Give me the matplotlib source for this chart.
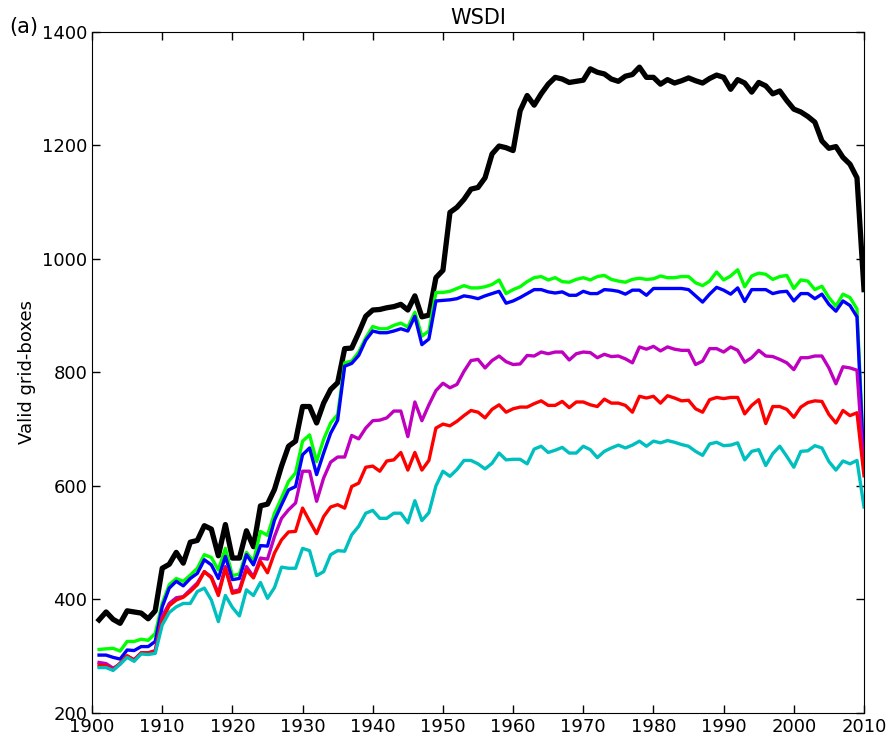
import matplotlib
matplotlib.use('Agg')
import matplotlib.pyplot as plt
import numpy as np

years = np.arange(1901, 2011)

black = [364, 378, 365, 358, 380, 378, 376, 366, 380, 455,
         462, 483, 464, 501, 504, 530, 524, 477, 532, 473,
         473, 521, 493, 565, 568, 594, 635, 670, 679, 740,
         740, 711, 746, 770, 782, 842, 843, 870, 899, 910,
         911, 914, 916, 920, 910, 935, 898, 901, 967, 980,
         1082, 1091, 1105, 1123, 1126, 1143, 1185, 1199, 1196, 1191,
         1261, 1288, 1271, 1291, 1308, 1320, 1317, 1311, 1313, 1315,
         1335, 1329, 1326, 1317, 1313, 1322, 1325, 1338, 1320, 1320,
         1308, 1316, 1310, 1314, 1319, 1314, 1310, 1318, 1324, 1320,
         1299, 1316, 1310, 1294, 1311, 1305, 1291, 1296, 1279, 1264,
         1259, 1251, 1241, 1208, 1195, 1198, 1179, 1167, 1143, 946]

green = [312, 313, 314, 309, 326, 326, 330, 328, 340, 393,
         426, 437, 432, 443, 455, 479, 474, 452, 490, 442,
         445, 483, 467, 520, 513, 552, 579, 608, 623, 679,
         690, 643, 682, 711, 726, 817, 820, 836, 861, 881,
         877, 877, 883, 887, 880, 906, 864, 873, 941, 941,
         943, 948, 953, 949, 949, 951, 955, 963, 939, 946,
         951, 960, 967, 969, 963, 967, 960, 959, 964, 967,
         963, 969, 971, 964, 961, 959, 964, 966, 964, 965,
         970, 967, 967, 969, 969, 958, 953, 961, 977, 963,
         970, 981, 951, 970, 975, 973, 964, 969, 971, 948,
         963, 961, 946, 952, 932, 917, 938, 932, 912, 640]

blue = [302, 302, 298, 295, 311, 310, 317, 317, 326, 387,
        420, 432, 424, 437, 446, 470, 461, 437, 476, 435,
        437, 479, 461, 495, 494, 540, 567, 593, 599, 655,
        667, 620, 658, 693, 716, 811, 816, 830, 857, 873,
        870, 870, 873, 877, 873, 899, 849, 859, 926, 927,
        928, 930, 935, 933, 930, 935, 939, 943, 922, 926,
        932, 939, 946, 946, 942, 940, 942, 936, 936, 943,
        939, 939, 946, 945, 943, 938, 945, 945, 936, 948,
        948, 948, 948, 948, 946, 935, 924, 938, 950, 945,
        938, 949, 925, 946, 946, 946, 939, 942, 943, 926,
        939, 939, 930, 938, 920, 908, 926, 918, 898, 630]

magenta = [289, 287, 279, 286, 300, 294, 306, 306, 310, 370,
           393, 403, 405, 417, 429, 449, 440, 411, 458, 414,
           417, 458, 440, 473, 471, 511, 543, 558, 570, 626,
           626, 573, 614, 642, 651, 651, 689, 683, 702, 715,
           716, 720, 732, 732, 687, 748, 715, 743, 768, 781,
           773, 779, 802, 821, 823, 808, 821, 829, 819, 814,
           815, 830, 829, 836, 833, 836, 836, 822, 833, 836,
           835, 826, 832, 828, 829, 824, 817, 845, 841, 846,
           838, 845, 841, 839, 839, 814, 820, 842, 842, 836,
           845, 839, 818, 826, 839, 829, 828, 823, 817, 805,
           826, 826, 829, 829, 808, 780, 810, 808, 804, 625]

red = [284, 283, 276, 288, 301, 293, 306, 306, 308, 364,
       389, 399, 404, 414, 426, 449, 438, 407, 455, 411,
       414, 452, 438, 467, 447, 482, 505, 519, 520, 561,
       538, 516, 546, 563, 567, 561, 599, 605, 633, 635,
       626, 644, 646, 659, 628, 659, 628, 645, 702, 709,
       706, 714, 724, 733, 730, 720, 735, 743, 730, 736,
       739, 739, 745, 750, 742, 742, 749, 738, 748, 748,
       743, 740, 753, 746, 746, 742, 730, 758, 755, 758,
       746, 759, 755, 750, 751, 736, 730, 752, 756, 754,
       756, 756, 727, 742, 752, 710, 740, 740, 735, 721,
       739, 747, 750, 749, 726, 711, 733, 724, 729, 618]

cyan = [280, 280, 275, 286, 298, 291, 304, 303, 305, 355,
        377, 387, 393, 393, 414, 420, 399, 361, 407, 386,
        371, 417, 407, 430, 402, 421, 457, 455, 455, 490,
        486, 442, 449, 479, 486, 485, 514, 529, 552, 557,
        543, 543, 552, 552, 535, 574, 539, 553, 600, 626,
        617, 629, 645, 645, 639, 630, 640, 658, 646, 647,
        647, 639, 665, 670, 659, 663, 668, 658, 658, 670,
        664, 650, 661, 667, 672, 667, 672, 679, 670, 679,
        676, 680, 677, 673, 670, 661, 654, 674, 677, 671,
        672, 676, 646, 661, 664, 636, 657, 670, 652, 633,
        661, 662, 671, 667, 643, 628, 644, 639, 645, 563]

series = [(black, 'k', 3.8), (green, '#00ff00', 2.4), (blue, '#0000ff', 2.4),
          (magenta, '#bf00bf', 2.4), (red, '#ff0000', 2.4), (cyan, '#00bfbf', 2.4)]

fig = plt.figure(figsize=(8.91, 7.43), dpi=100)
ax = fig.add_axes([0.1033, 0.0404, 0.8664, 0.9166])

for vals, col, lw in series:
    ax.plot(years, vals, color=col, linewidth=lw)

ax.set_xlim(1900, 2010)
ax.set_ylim(200, 1400)
ax.set_xticks(np.arange(1900, 2011, 10))
ax.set_yticks(np.arange(200, 1401, 200))
ax.tick_params(direction='in', length=6, width=1, top=True, right=True, labelsize=13)
ax.set_ylabel('Valid grid-boxes', fontsize=13)
ax.set_title('WSDI', fontsize=15, pad=6)
fig.text(0.01, 0.955, '(a)', fontsize=15)

plt.savefig('out.png', dpi=100)
